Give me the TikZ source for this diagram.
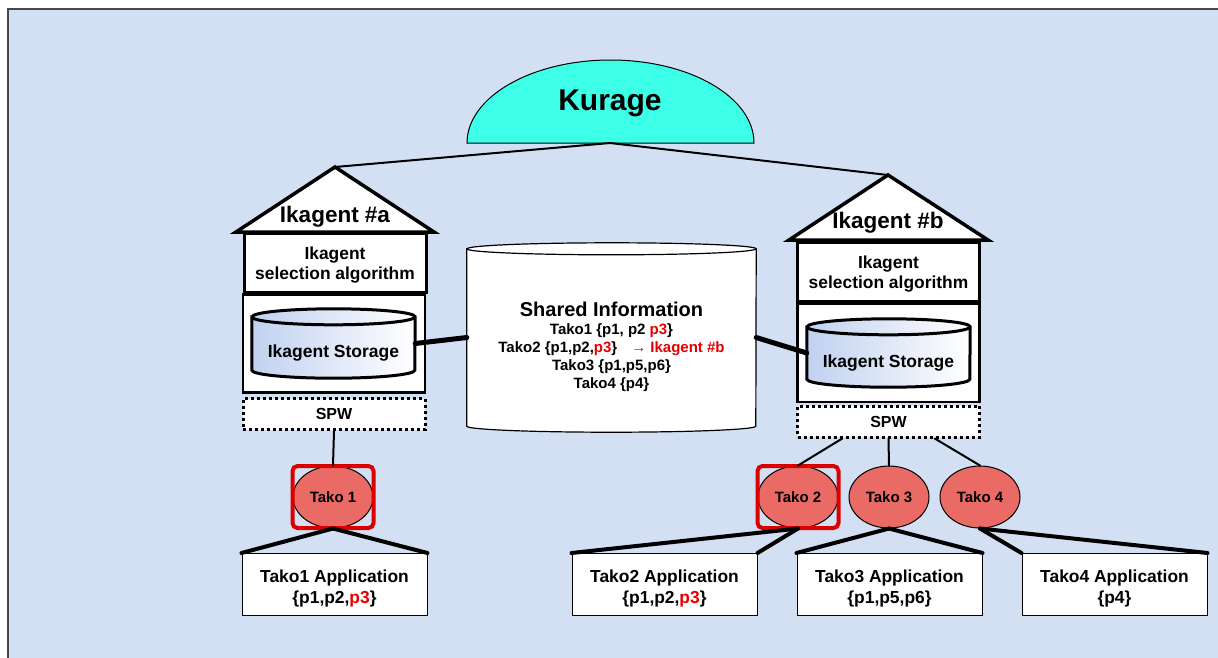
\documentclass[tikz,border=0pt]{standalone}
\usepackage{fontspec}
\setmainfont{Liberation Sans}
\usetikzlibrary{positioning,calc,shapes.geometric}
\definecolor{bgblue}{RGB}{211,224,243}
\definecolor{bgedge}{RGB}{70,70,75}
\definecolor{kuragecyan}{RGB}{61,255,232}
\definecolor{takored}{RGB}{234,107,102}
\definecolor{markred}{RGB}{218,0,0}
\definecolor{textred}{RGB}{232,0,0}
\definecolor{storeblue}{RGB}{192,209,240}
\newcommand{\setsize}[2]{\fontsize{#1}{#2}\selectfont\bfseries}
\newcommand{\hl}[1]{\textcolor{textred}{#1}}
% Drum outline round a named node: options, node, x radius, y radius
\newcommand{\drum}[4][]{%
  \filldraw[#1] ($(#2.north west)+(0,#4)$) -- ($(#2.south west)+(0,-#4)$)
      arc[start angle=180, end angle=0, x radius=#3, y radius=#4]
      -- ($(#2.north east)+(0,#4)$)
      arc[start angle=0, end angle=-180, x radius=#3, y radius=#4] -- cycle;
  \draw[#1, fill=none] ($(#2.north west)+(0,#4)$)
      arc[start angle=180, end angle=0, x radius=#3, y radius=#4];
}
\tikzset{x=1pt, y=-1pt, % One unit is one pixel of the drawing, y runs down
        roof/.style={ % Roof of an Ikagent house
            draw, line width=3.5pt, fill=white, line join=miter},
        housetitle/.style={font=\setsize{22.5}{26}},
        selbox/.style={ % Selection algorithm box
            draw, line width=3pt, fill=white, inner sep=0pt,
            minimum width=182pt, minimum height=59pt,
            align=center, font=\setsize{17.4}{19.5},
            text height=33pt, text depth=0pt},
        storebox/.style={
            draw, line width=2.5pt, fill=white, inner sep=0pt,
            minimum width=182pt, minimum height=98pt},
        drumbox/.style={inner sep=0pt}, % Room taken by a drum
        storage/.style={ % Ikagent Storage drum
            draw, line width=3pt, left color=storeblue, right color=white},
        storetext/.style={font=\setsize{17.5}{20}},
        spwbox/.style={
            draw, line width=3pt, dash pattern=on 3pt off 3pt, fill=white,
            inner sep=0pt, minimum width=182pt, minimum height=31pt,
            font=\setsize{16}{18}},
        tako/.style={
            ellipse, draw, line width=1pt, fill=takored, inner sep=0pt,
            minimum width=80pt, minimum height=62pt, font=\setsize{15}{17}},
        redmark/.style={ % Red frame round a Tako
            draw=markred, line width=4pt, rounded corners=5pt,
            minimum width=81pt, minimum height=62pt},
        appbox/.style={
            draw, line width=1pt, fill=white, inner sep=0pt,
            minimum width=185pt, minimum height=62pt,
            align=center, font=\setsize{17.4}{21},
            text height=37pt, text depth=0pt},
        every edge/.style={draw, line cap=round}
        }

\begin{document}
\begin{tikzpicture}
    \useasboundingbox (0,0) rectangle (1218,657);
    \fill[bgblue] (8,9) rectangle (1230,670);
    \draw[bgedge, line width=1.5pt] (8,670) -- (8,9) -- (1230,9);

    % Kurage
    \filldraw[fill=kuragecyan, draw=black, line width=1pt]
        (467,143) arc[start angle=180, end angle=360, x radius=143.5, y radius=83] -- cycle;
    \node[font=\setsize{30}{32}] (kurage) at (610,103) {Kurage};
    \coordinate (kbase) at (610,143);
    \coordinate (apexa) at (335,167);
    \coordinate (apexb) at (888,175);
    \draw[line width=2pt] (apexa) -- (kbase) -- (apexb);

    % Ikagent #a
    \draw[roof] (236,232) -- (apexa) -- (434,232) -- cycle;
    \node[housetitle] (titlea) at (335,216.5) {Ikagent \#a};
    \node[selbox]   (sela)  at (335,262.5) {Ikagent\\selection algorithm};
    \node[storebox] (boxa)  at (334,343.5) {};
    \node[drumbox, minimum width=163pt, minimum height=69pt] (stoa) at (333.5,343.5) {};
    \drum[storage]{stoa}{81.5}{8}
    \node[storetext] at ($(stoa)+(0,10)$) {Ikagent Storage};
    \node[spwbox]   (spwa)  at (334,414) {SPW};

    % Ikagent #b
    \draw[roof] (789,240) -- (apexb) -- (988,240) -- cycle;
    \node[housetitle] (titleb) at (888,222.5) {Ikagent \#b};
    \node[selbox]   (selb)  at (888.5,271.5) {Ikagent\\selection algorithm};
    \node[storebox] (boxb)  at (888.5,353) {};
    \node[drumbox, minimum width=163pt, minimum height=68pt] (stob) at (888.5,353) {};
    \drum[storage]{stob}{81.5}{8}
    \node[storetext] at ($(stob)+(0,10)$) {Ikagent Storage};
    \node[spwbox]   (spwb)  at (888.5,421.5) {SPW};

    % Shared Information
    \node[drumbox, minimum width=289pt, minimum height=189pt] (shared) at (611.5,337.5) {};
    \drum[draw, line width=1.2pt, fill=white]{shared}{144.5}{6}
    \node[align=center, font=\setsize{15}{18}] (sharedtext) at (611.5,347)
        {{\setsize{20}{18}Shared Information}\\
         Tako1 \{p1, p2 \hl{p3}\}\\
         Tako2 \{p1,p2,\hl{p3}\}\hspace{14pt}\hl{→ Ikagent \#b}\\
         Tako3 \{p1,p5,p6\}\\
         Tako4 \{p4\}};

    % Takos
    \node[tako] (tako1) at (333,497) {Tako 1};
    \node[tako] (tako2) at (798,497) {Tako 2};
    \node[tako] (tako3) at (889,497) {Tako 3};
    \node[tako] (tako4) at (980,497) {Tako 4};
    \node[redmark] (mark1) at (tako1) {};
    \node[redmark] (mark2) at (tako2) {};

    % Applications
    \node[appbox] (app1) at (334.5,584.5) {Tako1 Application\\\{p1,p2,\hl{p3}\}};
    \node[appbox] (app2) at (664.5,584.5) {Tako2 Application\\\{p1,p2,\hl{p3}\}};
    \node[appbox] (app3) at (889.5,584.5) {Tako3 Application\\\{p1,p5,p6\}};
    \node[appbox] (app4) at (1114.5,584.5) {Tako4 Application\\\{p4\}};

    \draw[line width=5pt]
        (shared.west) edge (stoa.east)
        (shared.east) edge (stob.west);
    \draw[line width=2pt]
        (spwa.south) edge (tako1.north)
        ($(spwb.south west)!0.25!(spwb.south east)$) edge (tako2.north)
        (spwb.south) edge (tako3.north)
        ($(spwb.south west)!0.75!(spwb.south east)$) edge (tako4.north);
    \draw[line width=4pt]
        (tako1.south)
            edge (app1.north west)
            edge (app1.north east)
        (tako2.south)
            edge (app2.north west)
            edge (app2.north east)
        (tako3.south)
            edge (app3.north west)
            edge (app3.north east)
        (tako4.south)
            edge (app4.north west)
            edge (app4.north east);
\end{tikzpicture}
\end{document}
